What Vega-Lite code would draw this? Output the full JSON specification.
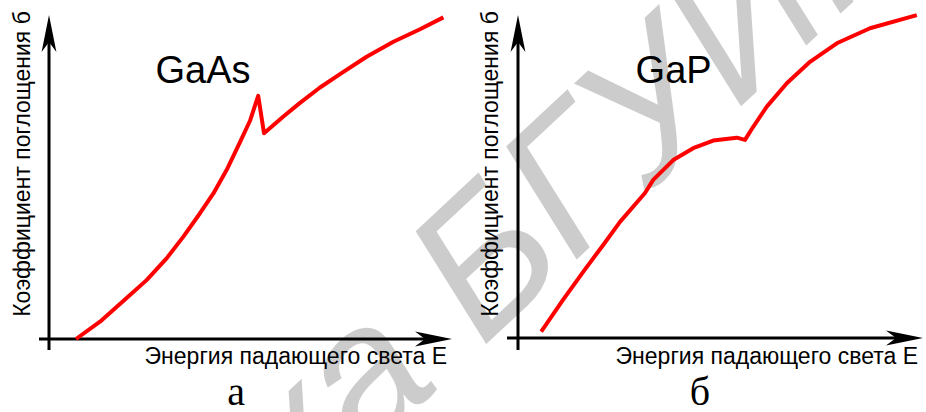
{
  "$schema": "https://vega.github.io/schema/vega-lite/v6.json",
  "width": 926,
  "height": 412,
  "padding": 0,
  "autosize": {"type": "none"},
  "background": "white",
  "config": {"view": {"stroke": null}},
  "datasets": {
    "curveA": [
      {"E": 0.675, "a": 0.0},
      {"E": 1.275, "a": 0.54},
      {"E": 2.025, "a": 1.375},
      {"E": 2.44, "a": 1.84},
      {"E": 2.94, "a": 2.52},
      {"E": 3.36, "a": 3.2},
      {"E": 3.775, "a": 3.93},
      {"E": 4.11, "a": 4.55},
      {"E": 4.44, "a": 5.28},
      {"E": 4.775, "a": 6.15},
      {"E": 5.025, "a": 6.82},
      {"E": 5.23, "a": 7.6},
      {"E": 5.375, "a": 6.43},
      {"E": 5.86, "a": 6.95},
      {"E": 6.275, "a": 7.38},
      {"E": 6.775, "a": 7.86},
      {"E": 7.275, "a": 8.28},
      {"E": 7.94, "a": 8.82},
      {"E": 8.61, "a": 9.29},
      {"E": 9.275, "a": 9.68},
      {"E": 9.86, "a": 10.05}
    ],
    "curveB": [
      {"E": 0.58, "a": 0.2},
      {"E": 1.125, "a": 1.19},
      {"E": 1.625, "a": 2.06},
      {"E": 2.125, "a": 2.9},
      {"E": 2.55, "a": 3.63},
      {"E": 3.175, "a": 4.53},
      {"E": 3.38, "a": 4.94},
      {"E": 3.88, "a": 5.56},
      {"E": 4.38, "a": 5.93},
      {"E": 4.88, "a": 6.17},
      {"E": 5.47, "a": 6.26},
      {"E": 5.675, "a": 6.19},
      {"E": 5.88, "a": 6.6},
      {"E": 6.22, "a": 7.23},
      {"E": 6.72, "a": 7.96},
      {"E": 7.3, "a": 8.63},
      {"E": 7.97, "a": 9.21},
      {"E": 8.8, "a": 9.68},
      {"E": 9.97, "a": 10.09}
    ],
    "axesA": [
      {"axis": "y", "E": 0, "a": -0.344, "E2": 0, "a2": 9.547},
      {"axis": "x", "E": -0.25, "a": 0, "E2": 9.6125, "a2": 0}
    ],
    "axesB": [
      {"axis": "y", "E": 0, "a": -0.375, "E2": 0, "a2": 9.516},
      {"axis": "x", "E": -0.275, "a": 0, "E2": 9.6625, "a2": 0}
    ],
    "arrowsA": [
      {"axis": "y", "E": 0, "a": 9.547},
      {"axis": "x", "E": 9.6125, "a": 0}
    ],
    "arrowsB": [
      {"axis": "y", "E": 0, "a": 9.516},
      {"axis": "x", "E": 9.6625, "a": 0}
    ],
    "labelsA": [
      {"kind": "material", "E": 3.85, "a": 8.0, "label": "GaAs"},
      {"kind": "xtitle", "E": 9.95, "a": -0.78, "label": "Энергия падающего света E"},
      {"kind": "ytitle", "E": -0.475, "a": 5.47, "label": "Коэффициент поглощения б"},
      {"kind": "letter", "E": 4.675, "a": -2.06, "label": "а"}
    ],
    "labelsB": [
      {"kind": "material", "E": 3.89, "a": 7.97, "label": "GaP"},
      {"kind": "xtitle", "E": 10.0, "a": -0.8125, "label": "Энергия падающего света E"},
      {"kind": "ytitle", "E": -0.5, "a": 5.44, "label": "Коэффициент поглощения б"},
      {"kind": "letter", "E": 4.55, "a": -2.09, "label": "б"}
    ],
    "watermark": [
      {"part": "left", "E": 9.85, "a": -1.41, "label": "Библиотека"},
      {"part": "right", "E": 10.825, "a": -0.28, "label": "БГУИР"}
    ]
  },
  "layer": [
    {
      "encoding": {
        "x": {"field": "E", "type": "quantitative", "axis": null, "scale": {"domain": [-1.225, 21.925], "nice": false, "zero": false}},
        "y": {"field": "a", "type": "quantitative", "axis": null, "scale": {"domain": [-2.28125, 10.59375], "nice": false, "zero": false}}
      },
      "layer": [
        {
          "data": {"name": "watermark"},
          "transform": [{"filter": "datum.part == 'left'"}],
          "mark": {"type": "text", "align": "right", "baseline": "alphabetic", "angle": -43, "font": "Liberation Sans", "fontStyle": "italic", "fontSize": 190, "color": "#cccccc", "clip": true},
          "encoding": {"text": {"field": "label"}}
        },
        {
          "data": {"name": "watermark"},
          "transform": [{"filter": "datum.part == 'right'"}],
          "mark": {"type": "text", "align": "left", "baseline": "alphabetic", "angle": -43, "font": "Liberation Sans", "fontStyle": "italic", "fontSize": 190, "color": "#cccccc", "clip": true},
          "encoding": {"text": {"field": "label"}}
        },
        {
          "data": {"name": "axesA"},
          "mark": {"type": "rule", "color": "black", "strokeWidth": 3, "strokeCap": "butt"},
          "encoding": {"x2": {"field": "E2"}, "y2": {"field": "a2"}}
        },
        {
          "data": {"name": "arrowsA"},
          "transform": [{"filter": "datum.axis == 'y'"}],
          "mark": {"type": "point", "shape": "M0,-1 L0.4,1 L0,0.46 L-0.4,1 Z", "filled": true, "color": "black", "opacity": 1, "size": 1369, "strokeWidth": 0}
        },
        {
          "data": {"name": "arrowsA"},
          "transform": [{"filter": "datum.axis == 'x'"}],
          "mark": {"type": "point", "shape": "M1,0 L-1,0.4 L-0.46,0 L-1,-0.4 Z", "filled": true, "color": "black", "opacity": 1, "size": 1369, "strokeWidth": 0}
        },
        {
          "data": {"name": "curveA"},
          "mark": {"type": "line", "color": "#ff0000", "strokeWidth": 4, "interpolate": "linear", "strokeJoin": "round"},
          "encoding": {"order": {"field": "E", "type": "quantitative"}}
        },
        {
          "data": {"name": "labelsA"},
          "transform": [{"filter": "datum.kind == 'material'"}],
          "mark": {"type": "text", "align": "center", "baseline": "alphabetic", "font": "Liberation Sans", "fontSize": 38, "color": "black"},
          "encoding": {"text": {"field": "label"}}
        },
        {
          "data": {"name": "labelsA"},
          "transform": [{"filter": "datum.kind == 'xtitle'"}],
          "mark": {"type": "text", "align": "right", "baseline": "alphabetic", "font": "Liberation Sans", "fontSize": 23, "color": "black"},
          "encoding": {"text": {"field": "label"}}
        },
        {
          "data": {"name": "labelsA"},
          "transform": [{"filter": "datum.kind == 'ytitle'"}],
          "mark": {"type": "text", "align": "center", "baseline": "alphabetic", "angle": 270, "font": "Liberation Sans", "fontSize": 23, "color": "black"},
          "encoding": {"text": {"field": "label"}}
        },
        {
          "data": {"name": "labelsA"},
          "transform": [{"filter": "datum.kind == 'letter'"}],
          "mark": {"type": "text", "align": "center", "baseline": "alphabetic", "font": "Liberation Serif", "fontSize": 40, "color": "black"},
          "encoding": {"text": {"field": "label"}}
        }
      ]
    },
    {
      "encoding": {
        "x": {"field": "E", "type": "quantitative", "axis": null, "scale": {"domain": [-12.95, 10.2], "nice": false, "zero": false}},
        "y": {"field": "a", "type": "quantitative", "axis": null, "scale": {"domain": [-2.3125, 10.5625], "nice": false, "zero": false}}
      },
      "layer": [
        {
          "data": {"name": "axesB"},
          "mark": {"type": "rule", "color": "black", "strokeWidth": 3, "strokeCap": "butt"},
          "encoding": {"x2": {"field": "E2"}, "y2": {"field": "a2"}}
        },
        {
          "data": {"name": "arrowsB"},
          "transform": [{"filter": "datum.axis == 'y'"}],
          "mark": {"type": "point", "shape": "M0,-1 L0.4,1 L0,0.46 L-0.4,1 Z", "filled": true, "color": "black", "opacity": 1, "size": 1369, "strokeWidth": 0}
        },
        {
          "data": {"name": "arrowsB"},
          "transform": [{"filter": "datum.axis == 'x'"}],
          "mark": {"type": "point", "shape": "M1,0 L-1,0.4 L-0.46,0 L-1,-0.4 Z", "filled": true, "color": "black", "opacity": 1, "size": 1369, "strokeWidth": 0}
        },
        {
          "data": {"name": "curveB"},
          "mark": {"type": "line", "color": "#ff0000", "strokeWidth": 4, "interpolate": "linear", "strokeJoin": "round"},
          "encoding": {"order": {"field": "E", "type": "quantitative"}}
        },
        {
          "data": {"name": "labelsB"},
          "transform": [{"filter": "datum.kind == 'material'"}],
          "mark": {"type": "text", "align": "center", "baseline": "alphabetic", "font": "Liberation Sans", "fontSize": 38, "color": "black"},
          "encoding": {"text": {"field": "label"}}
        },
        {
          "data": {"name": "labelsB"},
          "transform": [{"filter": "datum.kind == 'xtitle'"}],
          "mark": {"type": "text", "align": "right", "baseline": "alphabetic", "font": "Liberation Sans", "fontSize": 23, "color": "black"},
          "encoding": {"text": {"field": "label"}}
        },
        {
          "data": {"name": "labelsB"},
          "transform": [{"filter": "datum.kind == 'ytitle'"}],
          "mark": {"type": "text", "align": "center", "baseline": "alphabetic", "angle": 270, "font": "Liberation Sans", "fontSize": 23, "color": "black"},
          "encoding": {"text": {"field": "label"}}
        },
        {
          "data": {"name": "labelsB"},
          "transform": [{"filter": "datum.kind == 'letter'"}],
          "mark": {"type": "text", "align": "center", "baseline": "alphabetic", "font": "Liberation Serif", "fontSize": 40, "color": "black"},
          "encoding": {"text": {"field": "label"}}
        }
      ]
    }
  ],
  "resolve": {"scale": {"x": "independent", "y": "independent"}}
}
